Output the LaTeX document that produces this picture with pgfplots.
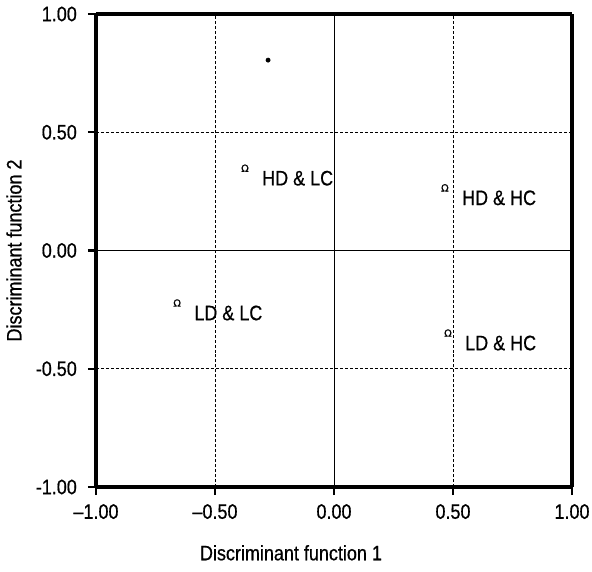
\documentclass[border=0pt]{standalone}
\usepackage{fontspec}
\setmainfont{Liberation Sans}[FakeStretch=0.86, FakeBold=0.6]
\newfontfamily\symfont{DejaVu Sans}[FakeBold=1]
\usepackage{pgfplots}
\pgfplotsset{compat=1.18}
\begin{document}
\fontsize{21}{24}\selectfont
\begin{tikzpicture}
\begin{axis}[
  scale only axis,
  width=476bp, height=473bp,
  xmin=-1, xmax=1, ymin=-1, ymax=1,
  separate axis lines,
  axis line style={line width=3.2pt, black},
  every outer x axis line/.append style={line width=3.2pt},
  every outer y axis line/.append style={line width=3.2pt},
  xtick={-1,-0.5,0.5,1},
  xticklabels={–1.00,–0.50,0.50,1.00},
  ytick={-1,-0.5,0.5,1},
  yticklabels={-1.00,-0.50,0.50,1.00},
  extra x ticks={0}, extra x tick labels={0.00},
  extra y ticks={0}, extra y tick labels={0.00},
  extra tick style={grid=major, major grid style={solid, black, line width=0.9pt}},
  grid=major,
  major grid style={black, line width=0.9pt, dash pattern=on 3pt off 2pt},
  tick align=outside,
  major tick length=8bp,
  every tick/.style={black, line width=2.4pt},
  xtick pos=bottom, ytick pos=left,
  ticklabel style={font=\fontsize{21}{24}\selectfont},
  xticklabel style={yshift=-2bp},
  yticklabel style={xshift=-4bp},
  label style={font=\fontsize{21}{24}\selectfont},
  xlabel={Discriminant function 1},
  ylabel={Discriminant function 2},
  xlabel style={xshift=-43bp, yshift=4bp},
  ylabel shift=-16bp,
  clip=false,
]
\addplot[only marks, mark=text, text mark={\symfont\fontsize{10}{10}\selectfont Ω},
  nodes near coords, point meta=explicit symbolic,
  nodes near coords style={anchor=west, inner sep=0pt, xshift=17bp, yshift=-10bp, font=\fontsize{21}{24}\selectfont}]
  coordinates {
  (-0.374,0.348) [HD \& LC]
  (0.466,0.265) [HD \& HC]
  (-0.659,-0.222) [LD \& LC]
  (0.479,-0.349) [LD \& HC]
};
\addplot[only marks, mark=*, mark size=2.2pt, black]
  coordinates {(-0.277,0.805)};
\end{axis}
\pgfresetboundingbox
\path ([shift={(-96bp,-85bp)}]current axis.south west) rectangle ([shift={(20bp,14bp)}]current axis.north east);
\end{tikzpicture}
\end{document}
